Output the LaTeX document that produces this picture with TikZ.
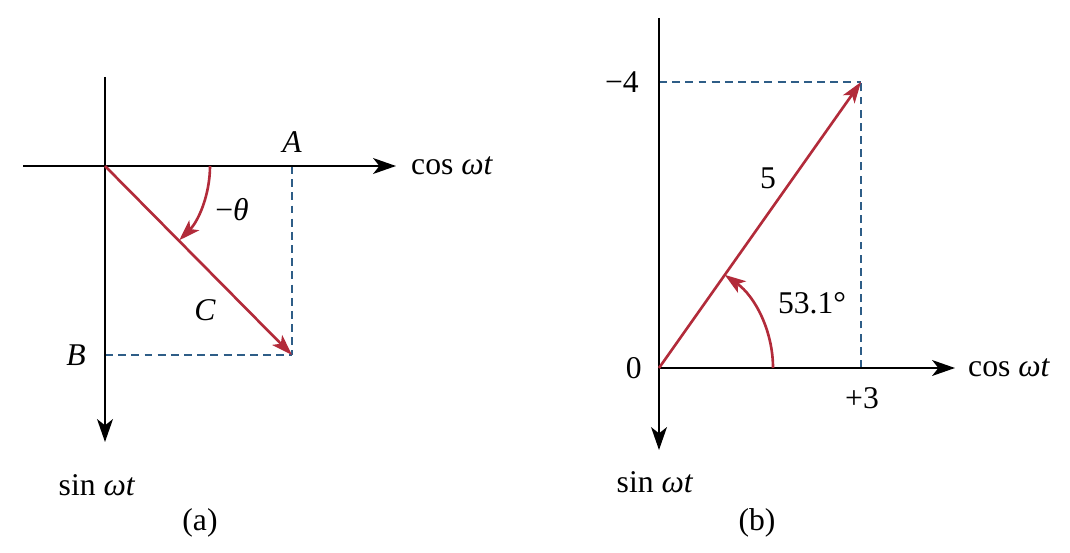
\documentclass[tikz,border=0pt]{standalone}
\usepackage{fontspec}
\setmainfont{Liberation Serif}
\usetikzlibrary{positioning}
\usetikzlibrary{calc}
\usetikzlibrary{arrows.meta}
\definecolor{phasor-red}{HTML}{B22B3A}
\definecolor{dash-blue}{HTML}{2E5D87}

\begin{document}
\begin{tikzpicture}[x=0.02cm, y=0.02cm, font=\fontsize{18}{21}\selectfont,
  axis/.style={line width=1.2pt, -{Stealth[length=13pt, width=9pt, inset=3.5pt]}},
  phasor/.style={phasor-red, line width=1.5pt, -{Stealth[length=12pt, width=8pt, inset=3pt]}},
  guide/.style={dash-blue, line width=0.8pt, dash pattern=on 4.5pt off 3pt}]
\useasboundingbox (0,0) rectangle (1070,552);

% (a)
\coordinate (oa) at (105,386);
\coordinate (ytopa) at (105,475);
\coordinate (ybota) at (105,110);
\coordinate (xlefta) at (23,386);
\coordinate (xrighta) at (396,386);
\coordinate (ca) at (292,197);
\coordinate (ax) at (292,386);
\coordinate (by) at (105,197);

\draw[guide] (ax) -- (ca);
\draw[guide] (by) -- (ca);
\draw[axis] (ytopa) -- (ybota);
\draw[axis] (xlefta) -- (xrighta);
\draw[phasor] (oa) -- (ca);
\draw[phasor] ($(oa)+(105,0)$) arc (0:-45:105);

\node[anchor=west] (cosa) at (405,386) {cos \textit{ωt}};
\node (sina) at (97,67) {sin \textit{ωt}};
\node (labA) at (292,410) {\textit{A}};
\node[anchor=east] (labB) at (92,197) {\textit{B}};
\node (labC) at (205,242) {\textit{C}};
\node (theta) at (232,342) {−\textit{θ}};
\node (capa) at (200,29) {(a)};

% (b)
\coordinate (ob) at (659,184);
\coordinate (ytopb) at (659,534);
\coordinate (yboty) at (659,102);
\coordinate (xrightb) at (955,184);
\coordinate (cb) at (861,470);
\coordinate (bx) at (861,184);
\coordinate (byy) at (659,470);

\draw[guide] (byy) -- (cb);
\draw[guide] (bx) -- (cb);
\draw[axis] (ytopb) -- (yboty);
\draw[axis] (ob) -- (xrightb);
\draw[phasor] (ob) -- (cb);
\draw[phasor] ($(ob)+(114,0)$) arc (0:54.8:114);

\node[anchor=west] (cosb) at (962,184) {cos \textit{ωt}};
\node (sinb) at (655,70) {sin \textit{ωt}};
\node[anchor=east] (zero) at (648,184) {0};
\node[anchor=east] (mfour) at (645,470) {−4};
\node (pthree) at (862,154) {+3};
\node (mag) at (768,374) {5};
\node (ang) at (812,249) {53.1°};
\node (capb) at (757,29) {(b)};
\end{tikzpicture}
\end{document}
